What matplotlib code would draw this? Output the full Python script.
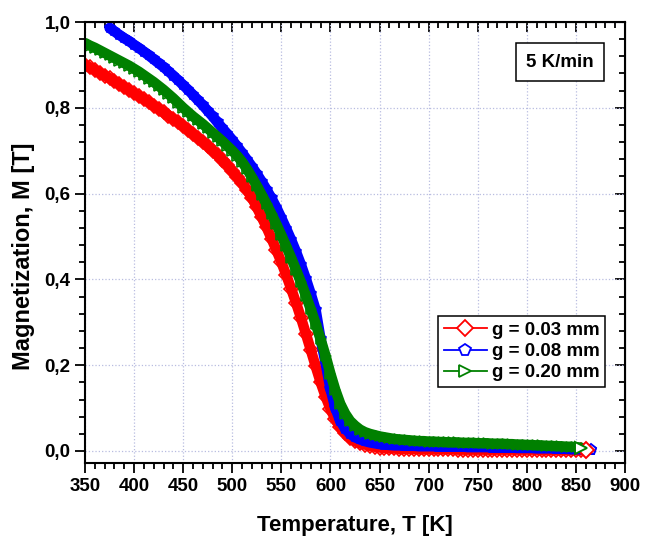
import numpy as np
import matplotlib
matplotlib.use('Agg')
import matplotlib.pyplot as plt
from matplotlib.ticker import MultipleLocator, FuncFormatter
from matplotlib.lines import Line2D

plt.rcParams['font.family'] = ['Liberation Sans', 'DejaVu Sans']
plt.rcParams['font.weight'] = 'bold'

# Temperature grids [K]
t_003 = list(range(350, 865, 5))
t_008 = list(range(375, 870, 5))
t_020 = list(range(350, 860, 5))

# Magnetization [T], g = 0.03 mm
m_003 = [
    .900, .894, .888, .882, .875, .869, .862, .855, .848, .841,
    .834, .827, .820, .813, .805, .798, .790, .782, .774, .766,
    .757, .748, .739, .730, .720, .710, .700, .689, .678, .666,
    .653, .639, .624, .608, .590, .568, .545, .521, .495, .468,
    .440, .410, .378, .345, .310, .273, .235, .197, .160, .127,
    .098, .074, .055, .041, .030, .023, .018, .015, .012, .010,
    .008, .007, .006, .006, .005, .005, .005, .005, .004, .004,
    .004, .004, .004, .004, .004, .004, .003, .003, .003, .003,
    .003, .003, .003, .003, .003, .003, .003, .003, .003, .003,
    .003, .003, .003, .002, .002, .002, .002, .002, .002, .002,
    .002, .002, .002,
]

# g = 0.08 mm
m_008 = [
    .986, .978, .970, .962, .955,
    .947, .939, .931, .922, .913, .904, .895, .885, .875, .864,
    .853, .842, .830, .818, .806, .793, .780, .766, .752, .739,
    .725, .710, .695, .679, .663, .646, .628, .609, .589, .567,
    .543, .518, .492, .464, .434, .401, .366, .328, .260, .205,
    .145, .100, .070, .052, .040, .032, .027, .023, .020, .018,
    .016, .015, .014, .013, .013, .012, .012, .012, .011, .011,
    .011, .011, .010, .010, .010, .010, .010, .010, .009, .009,
    .009, .009, .009, .008, .008, .008, .008, .008, .007, .007,
    .007, .007, .006, .006, .006, .006, .005, .005, .005, .004,
    .004, .004, .003, .003,
]

# g = 0.20 mm
m_020 = [
    .951, .945, .940, .934, .928, .922, .916, .910, .904, .898,
    .891, .884, .876, .868, .860, .851, .842, .832, .822, .811,
    .800, .790, .780, .771, .762, .752, .742, .732, .722, .711,
    .700, .688, .674, .657, .638, .618, .597, .575, .552, .528,
    .503, .477, .450, .422, .393, .362, .330, .296, .260, .222,
    .180, .142, .110, .087, .070, .059, .050, .044, .040, .037,
    .034, .032, .030, .028, .027, .026, .025, .024, .023, .023,
    .022, .022, .021, .021, .020, .020, .020, .019, .019, .019,
    .018, .018, .018, .017, .017, .017, .016, .016, .015, .015,
    .014, .014, .013, .013, .012, .012, .011, .011, .010, .010,
    .009, .008,
]

labels = ['g = 0.03 mm', 'g = 0.08 mm', 'g = 0.20 mm']
colors = ['#ff0000', '#0000ff', '#008000']
markers = ['D', 'p', '>']

fig = plt.figure(figsize=(6.55, 5.37), dpi=100)
ax = fig.add_axes([0.1298, 0.1378, 0.8244, 0.8212])

series = [(t_003, m_003), (t_008, m_008), (t_020, m_020)]
# blue underneath, green on top; dense open symbols merge into a thick band
for i in [1, 0, 2]:
    t, m = series[i]
    ax.plot(t, m, color=colors[i], linewidth=7.5, solid_capstyle='round',
            solid_joinstyle='round', zorder=2 + i * 0.1)
    ax.plot(t, m, linestyle='none', marker=markers[i], markersize=7,
            markerfacecolor='none', markeredgecolor=colors[i], markeredgewidth=1.2,
            zorder=2 + i * 0.1)

# last point of every run as an open symbol
for i in [1, 0, 2]:
    t, m = series[i]
    ax.plot(t[-1:], m[-1:], linestyle='none', marker=markers[i], markersize=8,
            markerfacecolor='white', markeredgecolor=colors[i], markeredgewidth=1.4,
            zorder=3)

ax.set_xlim(350, 900)
ax.set_ylim(-0.028, 1.0)

ax.xaxis.set_major_locator(MultipleLocator(50))
ax.xaxis.set_minor_locator(MultipleLocator(10))
ax.yaxis.set_major_locator(MultipleLocator(0.2))
ax.yaxis.set_minor_locator(MultipleLocator(0.04))
ax.yaxis.set_major_formatter(FuncFormatter(lambda v, p: f'{v:.1f}'.replace('.', ',')))

ax.tick_params(which='both', direction='out', top=False, right=False, width=1.3,
               labelsize=13.5)
ax.tick_params(which='major', length=7)
ax.tick_params(which='minor', length=4)
for lab in ax.get_xticklabels() + ax.get_yticklabels():
    lab.set_fontweight('bold')

# inward ticks on the top and right sides
tx = ax.secondary_xaxis('top')
tx.xaxis.set_major_locator(MultipleLocator(50))
tx.xaxis.set_minor_locator(MultipleLocator(10))
tx.tick_params(which='both', direction='in', labeltop=False, width=1.3)
tx.tick_params(which='major', length=7)
tx.tick_params(which='minor', length=4)
ty = ax.secondary_yaxis('right')
ty.yaxis.set_major_locator(MultipleLocator(0.2))
ty.yaxis.set_minor_locator(MultipleLocator(0.04))
ty.tick_params(which='both', direction='in', labelright=False, width=1.3)
ty.tick_params(which='major', length=7)
ty.tick_params(which='minor', length=4)

for s in ax.spines.values():
    s.set_linewidth(1.5)

ax.grid(True, which='major', linestyle=':', linewidth=0.9, color='#b8bce0')
ax.set_axisbelow(True)

ax.set_xlabel('Temperature, T [K]', fontsize=16, fontweight='bold', labelpad=15)
ax.set_ylabel('Magnetization, M [T]', fontsize=17, fontweight='bold', labelpad=9)
ax.yaxis.set_label_coords(-0.092, 0.468)

ax.text(0.88, 0.909, '5 K/min', transform=ax.transAxes, ha='center', va='center',
        fontsize=13.5, fontweight='bold', zorder=5,
        bbox=dict(boxstyle='square,pad=0.55', facecolor='white', edgecolor='black', linewidth=1.1))

handles = [Line2D([], [], color=colors[i], marker=markers[i], markersize=8.5,
                  markerfacecolor='white', markeredgewidth=1.3, linewidth=1.3)
           for i in range(3)]
leg = ax.legend(handles, labels, loc='upper left', bbox_to_anchor=(0.654, 0.333),
                borderaxespad=0, fancybox=False, framealpha=1, edgecolor='black',
                handlelength=2.3, handletextpad=0.25, labelspacing=0.22,
                borderpad=0.3, prop={'weight': 'bold', 'size': 13.5})
leg.get_frame().set_linewidth(1.1)
leg.set_zorder(5)

fig.savefig('out.png', dpi=100)
